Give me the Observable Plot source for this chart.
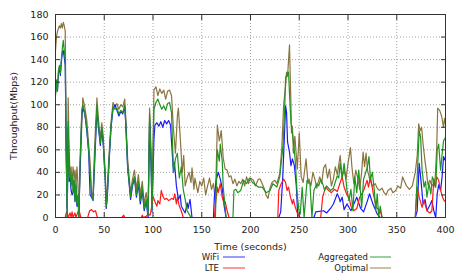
<!DOCTYPE html>
<html>
<head>
<meta charset="utf-8">
<script src="https://cdn.jsdelivr.net/npm/d3@7"></script>
<script src="https://cdn.jsdelivr.net/npm/@observablehq/plot@0.6"></script>
<style>
  html, body { margin: 0; padding: 0; background: #fff; }
  #wrap { position: relative; width: 464px; height: 278px; }
  #legend { position: absolute; left: 0; top: 0; pointer-events: none; }
</style>
</head>
<body>
<div id="wrap"></div>
<script>
const xTicks = [0, 50, 100, 150, 200, 250, 300, 350, 400];
const yTicks = [0, 20, 40, 60, 80, 100, 120, 140, 160, 180];
const seriesNames = ["WiFi", "LTE", "Aggregated", "Optimal"];
const seriesColors = ["#1a1aff", "#ff1a1a", "#1f951f", "#8a7440"];

// [time (s), throughput (Mbps)]
const wifi = [[0,110],[1,120],[2,112],[3,128],[4,133],[5,126],[6,138],[7,146],[8,148],[9,142],[10,135],[11,55],[12,0],[13,80],[14,32],[15,36],[16,24],[17,20],[18,22],[19,33],[20,14],[21,28],[22,10],[23,18],[24,0],[25,40],[27,92],[28,97],[30,92],[32,78],[34,58],[35.5,20],[37,18],[38.5,15],[40,45],[42.5,96],[44,80],[46,64],[47.5,78],[49,64],[51,34],[52,8],[53,16],[55,50],[57,80],[59,96],[61,100],[63,95],[65,90],[67,94],[69,92],[71,98],[72,84],[74,44],[77,16],[79,28],[81,35],[83,18],[85,30],[87,12],[89,24],[91,6],[93,14],[95,0],[96.5,85],[98,45],[99,5],[101,70],[102,82],[104,84],[106,81],[108,85],[110,80],[112,86],[114,83],[116,86],[118,82],[119,67],[121,40],[122,49],[124,28],[126,16],[128,20],[129,10],[133,4],[135,13],[136,8],[138,16],[140,0],[162,0],[163,19],[165,34],[167,40],[169,34],[171,26],[173,10],[175,0],[229,0],[231,5],[233,34],[236,99],[237,93],[238,67],[240,58],[241.5,46],[243,52],[245,46],[247,28],[248.5,0],[265,0],[267,5],[275,6],[278,4],[282,8],[285,12],[289,21],[291,17],[292,14],[294,18],[296,7],[299,12],[303,6],[306,12],[309,18],[313,8],[316,5],[320,15],[322,21],[326,11],[330,3],[333,0],[369,0],[371,6],[373,48],[374.5,36],[376,22],[377,12],[379,16],[381,6],[384,11],[386,15],[388,6],[390,0],[391.5,21],[393,29],[395,24],[396.5,36],[398,54],[400,50]];

const lte = [[0,0],[10,0],[11,4],[12,5],[13,0],[15,4],[16,0],[17,5],[18,0],[20,4],[21,0],[23,5],[24,7],[26,0],[33,0],[35,6],[37,7],[39,5],[41,6],[43,0],[68,0],[70,2],[71,0],[88,0],[89,2],[90,0],[93,1],[95,3],[97,2],[98,6],[100,19],[102,14],[104,10],[105,15],[107,12],[108.5,24],[110,19],[112,16],[114,17],[116,15],[118,16],[119,17],[121,16],[122.3,21],[124,12],[125,18],[127,10],[129,6],[131,0],[163,0],[164,12],[166,27],[167,22],[169,30],[171,18],[173,12],[174,14],[176,6],[178,0],[228,0],[229,24],[231,29],[234,34],[236,31],[237.5,24],[239,27],[241,18],[243,12],[244,16],[246,9],[248,4],[251,0],[272,0],[274,18],[277,27],[280,24],[283,22],[286,25],[289,23],[292,31],[294,36],[296,27],[299,20],[301,18],[303,10],[306,6],[309,8],[312,18],[316,24],[319.6,33],[321,27],[323,36],[326,21],[329,9],[333,6],[335,0],[369,0],[371,27],[373,18],[376,9],[378,15],[381,6],[384,4],[386,6],[388,33],[389.5,27],[391,36],[393,33],[395,24],[397,18],[398.5,15],[400,14]];

const aggregated = [[0,108],[1,122],[2,112],[3,130],[4,135],[5,128],[6,140],[7,150],[8,157],[9,148],[10,140],[11,60],[12,0],[13,85],[14,35],[15,40],[16,28],[17,38],[18,22],[19,35],[20,15],[21,30],[22,12],[23,20],[24,0],[25,45],[27,95],[28,100],[30,93],[32,80],[34,60],[35.5,40],[37,20],[38.5,16],[40,50],[42.5,100],[44,82],[46,66],[47.5,80],[49,66],[51,35],[52,10],[53,18],[55,52],[57,82],[59,98],[61,96],[63,97],[65,92],[67,95],[69,93],[71,100],[72,85],[74,45],[77,18],[79,30],[81,36],[83,20],[85,32],[87,15],[89,27],[91,8],[93,16],[95,2],[96.5,92],[98,50],[99,8],[101,96],[103,102],[105,105],[107,100],[109,96],[111,99],[113,95],[115,101],[117,102],[119,93],[121,40],[123,52],[125,57],[127,35],[129,45],[131,25],[133,16],[135,6],[137,3],[139,0],[164,0],[166,60],[168,50],[169,65],[171,50],[172,27],[174,9],[175,0],[182,0],[183,24],[185,25],[187,22],[190,24],[193,33],[196,30],[199,35],[202,31],[205,29],[208,27],[212,27],[216,22],[220,24],[223,30],[227,27],[230,36],[233.5,65],[235,95],[236,124],[237,126],[239,129],[240,110],[241.5,84],[243,75],[244.5,64],[246,49],[248,19],[250,4],[251,3],[253,27],[255,0],[258,33],[261,30],[263,0],[265,24],[268,30],[270,28],[272,34],[274,30],[276,24],[278,28],[282,24],[285,26],[289,37],[290.5,35],[292,48],[294,35],[296,48],[299,24],[301,15],[303,25],[305,6],[307,36],[309,22],[311,42],[314,9],[316,34],[320,45],[321.5,54],[323,34],[325,40],[327,24],[328.5,6],[330,21],[331.5,0],[333,10],[335,0],[369,0],[371,36],[373,77],[374.5,71],[376,42],[378,27],[379.5,32],[381,18],[383,30],[385,21],[386.5,36],[388,33],[390,27],[391.5,60],[393,65],[395,42],[396.5,56],[398,68],[400,71]];

const optimal = [[0,148],[1,160],[2,165],[4,170],[5,168],[6,172],[7,168],[8,173],[9,170],[10,165],[11,60],[12,8],[13,106],[14,60],[15,35],[16,45],[17,30],[18,45],[19,35],[20,42],[21,28],[22,45],[23,30],[24,4],[26,60],[28,106],[30,98],[32,87],[34,65],[35.5,49],[37,22],[38.5,20],[40,60],[42.5,106],[44,87],[46,70],[47.5,84],[49,72],[51,40],[52,13],[53,25],[55,57],[57,85],[59,102],[61,98],[63,101],[65,96],[67,100],[69,98],[71,105],[72,90],[74,52],[77,22],[79,34],[81,42],[83,25],[85,38],[87,20],[89,32],[91,12],[93,22],[95,8],[96.5,97],[98,60],[99,15],[101,113],[103,116],[105,108],[107,114],[109,110],[111,113],[113,105],[115,112],[117,113],[119,108],[121,78],[123,57],[125,90],[126,97],[128,70],[130,40],[131.5,55],[133,28],[135,35],[137,40],[139,31],[140,44],[142,25],[143,35],[146,22],[148,32],[150,28],[152,35],[154,20],[156,28],[158,35],[160,25],[162,30],[164,15],[166,82],[168,68],[169,72],[170,77],[172,53],[174,43],[176,42],[178,36],[180,37],[182,30],[184,34],[186,28],[188,32],[190,30],[192,34],[194,28],[196,36],[198,30],[200,35],[203,33],[205,28],[208,34],[210,34],[212,30],[214,26],[216,20],[218,17],[220,26],[222,31],[225,33],[227,30],[230,39],[232,60],[234,100],[236,117],[237,129],[238,125],[240,153],[241.5,99],[242,75],[243,81],[244,57],[245.5,72],[247,55],[248,43],[250,75],[252,36],[254,31],[257,52],[259,30],[260,34],[262,28],[264,40],[266,34],[268,26],[269,30],[271,36],[273,30],[275,44],[277,47],[279,35],[281,43],[283,28],[285,34],[287,45],[289,38],[292,55],[294,36],[296,42],[298,34],[300,48],[302.5,62],[304,45],[306,30],[308,42],[310,35],[312,25],[314,40],[315.5,58],[317,45],[318.5,57],[320,42],[322,35],[325,28],[328,30],[330,26],[332,24],[335,26],[337,22],[339,20],[341,24],[344,26],[346,22],[349,24],[351,28],[354,26],[356,36],[358,32],[360,28],[363,25],[366,28],[369,40],[371,55],[372.5,83],[374,77],[375.5,80],[377,65],[379,50],[380.5,40],[382,29],[384,33],[386,28],[388,30],[389.5,36],[391,62],[392,97],[394,95],[396,90],[398,80],[399,88],[400,83]];

const seriesData = [wifi, lte, aggregated, optimal];
const drawOrder = [3, 0, 1, 2];

const lineMarks = drawOrder.map(i => Plot.line(seriesData[i], {
  x: d => d[0], y: d => d[1], stroke: seriesColors[i], strokeWidth: 1.2, curve: "linear"
}));

const axisColor = "#333";
const chart = Plot.plot({
  width: 464, height: 278,
  marginLeft: 55, marginRight: 19, marginTop: 14, marginBottom: 61,
  style: { fontFamily: "DejaVu Sans", fontSize: "9.5px", color: "#222", background: "#fff" },
  x: { domain: [0, 400] },
  y: { domain: [0, 180] },
  marks: [
    Plot.gridX(xTicks, { stroke: "#999", strokeOpacity: 0.9, strokeDasharray: "1,2" }),
    Plot.gridY(yTicks, { stroke: "#999", strokeOpacity: 0.9, strokeDasharray: "1,2" }),
    ...lineMarks,
    Plot.frame({ stroke: axisColor, strokeWidth: 1 }),
    Plot.axisX(xTicks, { tickSize: 0, tickPadding: 9, label: "Time (seconds)", labelAnchor: "center", labelArrow: "none", labelOffset: 32 }),
    Plot.axisX(xTicks, { tickSize: -5, tickFormat: () => "", label: null, stroke: axisColor }),
    Plot.axisX(xTicks, { anchor: "top", tickSize: -5, tickFormat: () => "", label: null, stroke: axisColor }),
    Plot.axisY(yTicks, { tickSize: 0, tickPadding: 7, label: "Throughput(Mbps)", labelAnchor: "center", labelArrow: "none", labelOffset: 45 }),
    Plot.axisY(yTicks, { tickSize: -5, tickFormat: () => "", label: null, stroke: axisColor }),
    Plot.axisY(yTicks, { anchor: "right", tickSize: -5, tickFormat: () => "", label: null, stroke: axisColor })
  ]
});
document.getElementById("wrap").appendChild(chart);

// Legend (two columns under the x-axis title)
const legendSvg = d3.select("#wrap").append("svg")
  .attr("id", "legend").attr("width", 464).attr("height", 278);
const legendPos = [
  { tx: 219, lx1: 223, lx2: 245, y: 257 },
  { tx: 219, lx1: 223, lx2: 245, y: 268 },
  { tx: 368, lx1: 370, lx2: 391, y: 257 },
  { tx: 368, lx1: 370, lx2: 391, y: 268 }
];
seriesNames.forEach((name, i) => {
  const p = legendPos[i];
  legendSvg.append("text").attr("x", p.tx).attr("y", p.y).attr("dy", "0.35em")
    .attr("text-anchor", "end").attr("font-family", "DejaVu Sans").attr("font-size", "8.5px")
    .attr("fill", "#222").text(name);
  legendSvg.append("line").attr("x1", p.lx1).attr("x2", p.lx2).attr("y1", p.y).attr("y2", p.y)
    .attr("stroke", seriesColors[i]).attr("stroke-width", 1.5).attr("stroke-opacity", 0.6);
});
</script>
</body>
</html>
